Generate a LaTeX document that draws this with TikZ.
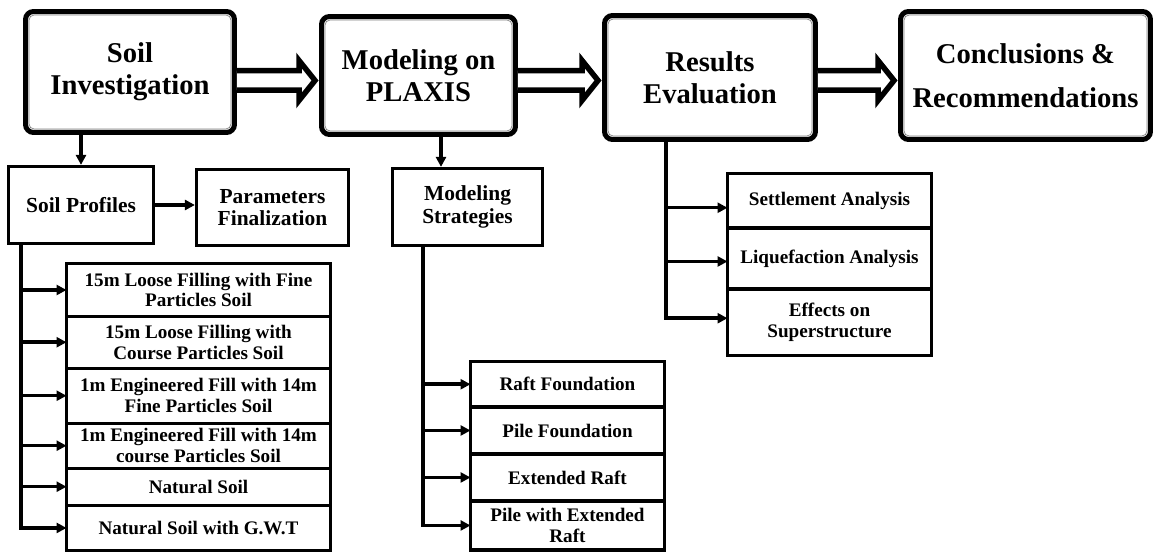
\documentclass[tikz,border=0pt]{standalone}
\usepackage{fontspec}
\setmainfont{Liberation Serif}
\usepackage{tikz}
\usetikzlibrary{arrows.meta, positioning, calc}
\tikzset{
  mainblock/.style={rectangle, draw, line width=0.1cm, rounded corners=0.16cm,
    align=center, inner sep=2pt,
    font=\fontsize{16.3}{18.2}\selectfont\bfseries},
  block/.style={rectangle, draw, line width=0.065cm, align=center, inner sep=2pt,
    font=\fontsize{12.2}{12.7}\selectfont\bfseries},
  listblock/.style={rectangle, draw, line width=0.065cm, align=center,
    inner sep=1pt, outer sep=0pt, minimum width=#1,
    font=\fontsize{10.9}{11.8}\selectfont\bfseries},
  arrow/.style={-{Triangle[length=0.2cm, width=0.2cm]}, line width=0.07cm},
  line/.style={line width=0.07cm},
  hollow/.style={line width=0.11cm, fill=white, line join=miter}
}
\begin{document}
\begin{tikzpicture}[x=0.02cm, y=-0.02cm]
  \useasboundingbox (0,0) rectangle (1154,553);

  % Main stages
  \node[mainblock, minimum width=4.18cm, minimum height=2.42cm] (si) at (130,72) {Soil\\Investigation};
  \node[mainblock, minimum width=3.88cm, minimum height=2.36cm] (mp) at (418.5,75.5) {Modeling on\\PLAXIS};
  \node[mainblock, minimum width=4.22cm, minimum height=2.48cm] (re) at (710,77.5) {Results\\Evaluation};
  \node[mainblock, minimum width=5.00cm, minimum height=2.56cm] (cr) at (1025.5,75.5) {Conclusions \&\\[7pt]Recommendations};
  \foreach \n in {si,mp,re,cr}
    \draw[gray, line width=0.4pt, rounded corners=0.1cm] ($(\n.north west)+(6,6)$) rectangle ($(\n.south east)+(-6,-6)$);

  % Second row
  \node[block, minimum width=2.90cm, minimum height=1.54cm] (sp) at (81,205) {Soil Profiles};
  \node[block, minimum width=3.04cm, minimum height=1.52cm] (pf) at (272.5,207.5) {Parameters\\Finalization};
  \node[block, minimum width=3.00cm, minimum height=1.54cm] (ms) at (467.5,207) {Modeling\\Strategies};

  % Soil profiles
  \node[listblock=5.28cm, minimum height=1.05cm] (s1) at (198.5,290) {15m Loose Filling with Fine\\Particles Soil};
  \node[listblock=5.28cm, minimum height=1.04cm, below=0pt of s1] (s2) {15m Loose Filling with\\Course Particles Soil};
  \node[listblock=5.28cm, minimum height=1.10cm, below=0pt of s2] (s3) {1m Engineered Fill with 14m\\Fine Particles Soil};
  \node[listblock=5.28cm, minimum height=0.90cm, below=0pt of s3] (s4) {1m Engineered Fill with 14m\\course Particles Soil};
  \node[listblock=5.28cm, minimum height=0.74cm, below=0pt of s4] (s5) {Natural Soil};
  \node[listblock=5.28cm, minimum height=0.91cm, below=0pt of s5] (s6) {Natural Soil with G.W.T};

  % Modeling strategies
  \node[listblock=3.88cm, minimum height=0.91cm] (m1) at (567.5,384.25) {Raft Foundation};
  \node[listblock=3.88cm, minimum height=0.94cm, below=0pt of m1] (m2) {Pile Foundation};
  \node[listblock=3.88cm, minimum height=0.94cm, below=0pt of m2] (m3) {Extended Raft};
  \node[listblock=3.88cm, minimum height=0.98cm, below=0pt of m3] (m4) {Pile with Extended\\Raft};

  % Results
  \node[listblock=4.08cm, minimum height=1.09cm] (r1) at (829.5,200.75) {Settlement Analysis};
  \node[listblock=4.08cm, minimum height=1.22cm, below=0pt of r1] (r2) {Liquefaction Analysis};
  \node[listblock=4.08cm, minimum height=1.33cm, below=0pt of r2] (r3) {Effects on\\Superstructure};

  % Hollow arrows between stages
  \foreach \a/\b in {si/mp, mp/re, re/cr}
    \draw[hollow] ($(\a.east |- 0,80.5)+(0,-9.75)$) -- ($(\b.west |- 0,80.5)+(-20,-9.75)$)
      -- ++(0,-10.25) -- ($(\b.west |- 0,80.5)+(-4,0)$) -- ($(\b.west |- 0,80.5)+(-20,20)$)
      -- ++(0,-10.25) -- ($(\a.east |- 0,80.5)+(0,9.75)$);

  % Connections
  \draw[arrow] (si.south -| sp.north) -- (sp.north);
  \draw[arrow] (sp.east) -- (sp.east -| pf.west);
  \draw[arrow] ($(mp.south)+(22.5,0)$) coordinate (mpdrop) -- (mpdrop |- ms.north);

  \coordinate (spdrop) at ($(sp.south west)+(14,0)$);
  \foreach \i in {1,...,6}
    \draw[arrow] (spdrop) |- (s\i.west);
  \coordinate (msdrop) at ($(ms.south west)+(32,0)$);
  \foreach \i in {1,...,4}
    \draw[arrow] (msdrop) |- (m\i.west);
  \coordinate (redrop) at ($(re.south west)+(64,0)$);
  \draw[arrow] (redrop) |- ($(r1.west)+(0,7)$);
  \draw[arrow] (redrop) |- ($(r2.west)+(0,3)$);
  \draw[arrow] (redrop) |- ($(r3.west)+(0,-4)$);
\end{tikzpicture}
\end{document}
